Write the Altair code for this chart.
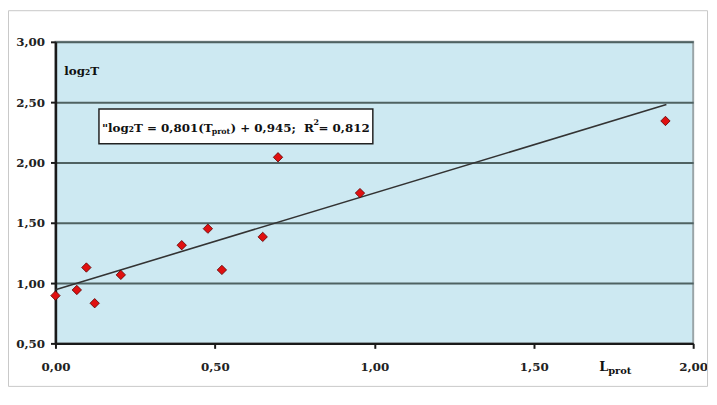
import altair as alt
import pandas as pd

# Data
l_prot = [0.00, 0.067, 0.097, 0.123, 0.205, 0.396, 0.478, 0.522, 0.650, 0.698, 0.955, 1.913]
log2_t = [0.896, 0.943, 1.129, 0.833, 1.068, 1.314, 1.451, 1.109, 1.383, 2.043, 1.746, 2.344]

trend_x = [0.0, 1.916]
trend_y = [0.945, 2.480]

x_ticks = [0.0, 0.5, 1.0, 1.5, 2.0]
y_ticks = [0.5, 1.0, 1.5, 2.0, 2.5, 3.0]

FONT = "DejaVu Serif"

pts = pd.DataFrame({"x": l_prot, "y": log2_t})
trend = pd.DataFrame({"x": trend_x, "y": trend_y})

xscale = alt.Scale(domain=[0, 2.0], nice=False, zero=False)
yscale = alt.Scale(domain=[0.5, 3.0], nice=False, zero=False)

label_expr = "replace(format(datum.value, '.2f'), '.', ',')"

x_axis = alt.Axis(values=x_ticks, labelExpr=label_expr, title=None, grid=False,
                  domainColor="#1a1a1a", domainWidth=2.5, tickColor="#1a1a1a",
                  tickWidth=2, tickSize=5, labelPadding=13, labelFont=FONT,
                  labelFontSize=12, labelFontWeight="bold", labelColor="#222222",
                  labelFlush=False)
y_axis = alt.Axis(values=y_ticks, labelExpr=label_expr, title=None, grid=True,
                  gridColor="#4f6262", gridWidth=2,
                  domainColor="#1a1a1a", domainWidth=2.5, tickColor="#1a1a1a",
                  tickWidth=2, tickSize=5, labelPadding=6, labelFont=FONT,
                  labelFontSize=12, labelFontWeight="bold", labelColor="#222222",
                  labelFlush=False)

base = alt.Chart(pts)

# faint outer frame
frame = alt.Chart(pd.DataFrame({"a": [0]})).mark_rect(
    fill=None, stroke="#c8c8c8", strokeWidth=1
).encode(x=alt.value(-47.5), x2=alt.value(659.5), y=alt.value(-31.5), y2=alt.value(348.5))

points = base.mark_point(shape="diamond", filled=True, size=90, color="#e01010",
                         stroke="#5a0000", strokeWidth=0.8, opacity=1).encode(
    x=alt.X("x:Q", scale=xscale, axis=x_axis),
    y=alt.Y("y:Q", scale=yscale, axis=y_axis),
)

line = alt.Chart(trend).mark_line(color="#333333", strokeWidth=1.6).encode(
    x=alt.X("x:Q", scale=xscale),
    y=alt.Y("y:Q", scale=yscale),
)

# equation box
box = alt.Chart(pd.DataFrame({"a": [0]})).mark_rect(
    fill="white", stroke="#222222", strokeWidth=1.5
).encode(x=alt.value(44), x2=alt.value(321), y=alt.value(68), y2=alt.value(103))


def txt(s, x, y, size=12, align="left"):
    return alt.Chart(pd.DataFrame({"t": [s]})).mark_text(
        font=FONT, fontSize=size, fontWeight="bold", color="#111111",
        align=align, baseline="alphabetic"
    ).encode(text="t:N", x=alt.value(x), y=alt.value(y))


eq = [
    txt('"log\u2082T = 0,801(T', 47, 91, size=12),
    txt("prot", 158, 93, size=8),
    txt(")\u00a0+ 0,945;\u00a0 R", 177, 91, size=12),
    txt("2", 261, 84, size=8),
    txt("\u00a0= 0,812", 266, 91, size=12),
]

ylab = txt("log\u2082T", 9, 34, size=12)
xlab = [txt("L", 550, 333, size=13), txt("prot", 559, 336, size=10)]

chart = alt.layer(frame, line, points, box, *eq, ylab, *xlab).properties(
    width=645, height=305,
    padding={"left": 48, "top": 32, "right": 16, "bottom": 52},
    autosize=alt.AutoSizeParams(type="none"),
    background="white",
).configure_view(
    fill="#cde9f2", stroke="#9aa5a8", strokeWidth=2
)

chart.save("out.html", embed_options={"renderer": "svg", "actions": False})
